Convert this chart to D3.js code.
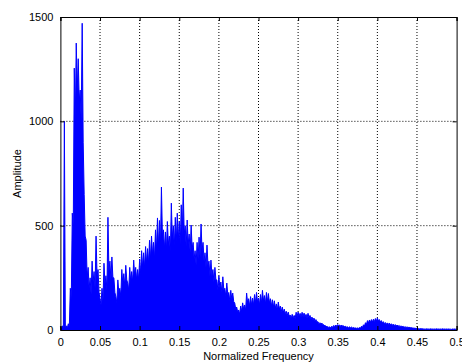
<!DOCTYPE html>
<html>
<head>
<meta charset="utf-8">
<script src="https://cdn.jsdelivr.net/npm/d3@7"></script>
<style>
  body { margin: 0; background: #fff; }
  text { font-family: Arial, "Liberation Sans", sans-serif; }
</style>
</head>
<body>
<svg id="chart"></svg>
<script>
const freqStep = 0.0025;
const amplitudes = [
  15, 20, 1000, 20, 30, 200, 560, 1255, 1375, 1300,
  1150, 1470, 650, 430, 300, 250, 330, 280, 450, 290,
  150, 200, 320, 260, 540, 330, 350, 250, 160, 240,
  200, 290, 270, 310, 225, 300, 280, 335, 300, 290,
  340, 380, 370, 400, 390, 430, 450, 420, 480, 537,
  525, 685, 480, 470, 520, 450, 608, 500, 540, 560,
  520, 600, 680, 500, 527, 460, 503, 420, 380, 420,
  445, 508, 420, 370, 407, 330, 335, 290, 300, 240,
  260, 230, 255, 200, 225, 180, 190, 177, 130, 110,
  96, 115, 130, 120, 177, 150, 160, 153, 170, 180,
  153, 170, 190, 165, 180, 175, 150, 145, 140, 125,
  134, 115, 110, 100, 90, 86, 72, 75, 70, 85,
  86, 80, 85, 81, 75, 80, 70, 62, 57, 50,
  40, 35, 33, 25, 20, 16, 15, 18, 22, 24,
  26, 24, 24, 20, 18, 15, 15, 14, 12, 10,
  10, 12, 18, 25, 35, 45, 48, 50, 52, 55,
  58, 50, 45, 40, 36, 34, 33, 30, 28, 26,
  24, 22, 20, 18, 16, 15, 14, 12, 10, 9,
  8, 6, 7, 6, 5, 6, 5, 6, 5, 5,
  6, 5, 5, 6, 5, 5, 5, 4, 5, 5, 5
];
// low points between samples (where the signal dips between spikes)
const troughs = [
  5, 8, 10, 10, 15, 150, 500, 1000, 1150, 1100,
  1000, 900, 450, 250, 200, 170, 230, 200, 260, 180,
  120, 140, 220, 190, 280, 240, 250, 180, 130, 180,
  160, 220, 210, 240, 190, 230, 230, 260, 240, 240,
  270, 300, 300, 320, 320, 340, 360, 340, 380, 400,
  400, 450, 390, 380, 410, 370, 440, 400, 420, 430,
  410, 450, 460, 400, 410, 370, 390, 340, 310, 340,
  350, 380, 330, 300, 310, 260, 260, 230, 240, 190,
  200, 180, 190, 160, 170, 140, 150, 135, 100, 85,
  75, 90, 100, 95, 130, 115, 120, 120, 130, 135,
  120, 130, 140, 125, 135, 130, 115, 110, 105, 95,
  100, 88, 85, 78, 70, 66, 56, 58, 55, 65,
  66, 62, 65, 62, 58, 60, 54, 48, 44, 38,
  30, 27, 25, 19, 15, 12, 11, 13, 16, 18,
  20, 18, 18, 15, 13, 11, 11, 10, 9, 8,
  8, 9, 13, 19, 27, 34, 37, 38, 40, 42,
  44, 38, 34, 30, 27, 26, 25, 23, 21, 19,
  18, 16, 15, 13, 12, 11, 10, 9, 8, 7,
  6, 5, 5, 4, 4, 4, 4, 4, 4, 4,
  4, 4, 4, 4, 4, 4, 4, 3, 4, 4
];
const xTicks = [0, 0.05, 0.1, 0.15, 0.2, 0.25, 0.3, 0.35, 0.4, 0.45, 0.5];
const yTicks = [0, 500, 1000, 1500];

const width = 462, height = 364;
const margin = { top: 17, right: 5.4, bottom: 34, left: 60.4 };
const innerW = width - margin.left - margin.right;
const innerH = height - margin.top - margin.bottom;

const svg = d3.select('#chart').attr('width', width).attr('height', height);
const g = svg.append('g').attr('transform', `translate(${margin.left},${margin.top})`);

const x = d3.scaleLinear().domain([0, 0.5]).range([0, innerW]);
const y = d3.scaleLinear().domain([0, 1500]).range([innerH, 0]);

// dotted grid
g.append('g').selectAll('line')
  .data(xTicks.slice(1, -1))
  .join('line')
  .attr('x1', d => x(d)).attr('x2', d => x(d))
  .attr('y1', 0).attr('y2', innerH)
  .attr('stroke', '#000').attr('stroke-width', 1).attr('stroke-dasharray', '1,2');
g.append('g').selectAll('line')
  .data(yTicks.slice(1, -1))
  .join('line')
  .attr('x1', 0).attr('x2', innerW)
  .attr('y1', d => y(d)).attr('y2', d => y(d))
  .attr('stroke', '#000').attr('stroke-width', 1).attr('stroke-dasharray', '1,2');

// zigzag between each sample peak and the following trough
const pts = [];
amplitudes.forEach((a, i) => {
  pts.push([i * freqStep, a]);
  if (i < troughs.length) pts.push([(i + 0.5) * freqStep, troughs[i]]);
});

g.append('path')
  .datum(pts)
  .attr('fill', '#0000ff')
  .attr('d', d3.area().x(d => x(d[0])).y0(y(0)).y1(d => y(d[1])));
g.append('path')
  .datum(pts)
  .attr('fill', 'none')
  .attr('stroke', '#0000ff')
  .attr('stroke-width', 1)
  .attr('d', d3.line().x(d => x(d[0])).y(d => y(d[1])));

// axes (box with inward ticks like MATLAB)
const xAxis = d3.axisBottom(x).tickValues(xTicks).tickSize(-4).tickPadding(8).tickFormat(d3.format('~g'));
const yAxis = d3.axisLeft(y).tickValues(yTicks).tickSize(-4).tickPadding(7).tickFormat(d3.format('d'));

g.append('g').attr('transform', `translate(0,${innerH})`).call(xAxis);
g.append('g').call(yAxis);
g.append('g').call(d3.axisTop(x).tickValues(xTicks).tickSize(-4).tickFormat(''));
g.append('g').attr('transform', `translate(${innerW},0)`).call(d3.axisRight(y).tickValues(yTicks).tickSize(-4).tickFormat(''));

g.selectAll('.domain').attr('stroke', '#000');
g.selectAll('.tick line').attr('stroke', '#000');
g.selectAll('.tick text').attr('font-size', 11).attr('fill', '#000');

svg.append('text')
  .attr('x', margin.left + innerW / 2)
  .attr('y', 360)
  .attr('text-anchor', 'middle')
  .attr('font-size', 11)
  .text('Normalized Frequency');

svg.append('text')
  .attr('transform', `translate(21,${margin.top + innerH / 2}) rotate(-90)`)
  .attr('text-anchor', 'middle')
  .attr('font-size', 11)
  .text('Amplitude');
</script>
</body>
</html>
